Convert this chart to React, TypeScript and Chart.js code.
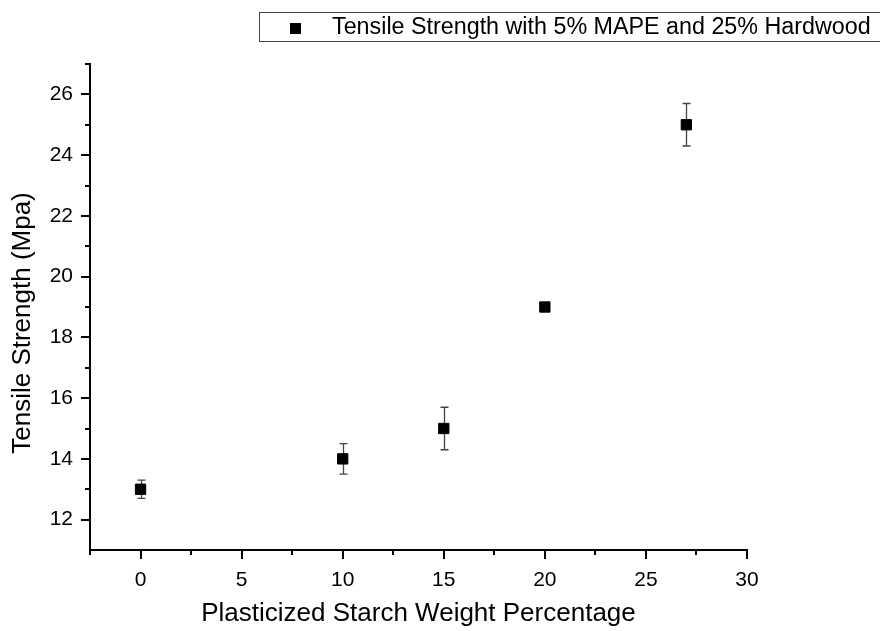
import { useEffect, useRef } from 'react';
import { Chart, registerables } from 'chart.js';

Chart.register(...registerables);

const starchPct = [0, 10, 15, 20, 27];
const tensileStrength = [13, 14, 15, 19, 25];
const tensileError = [0.3, 0.5, 0.7, 0.1, 0.7];

const xTickValues = [0, 5, 10, 15, 20, 25, 30];
const xMinorTickValues = [-2.5, 2.5, 7.5, 12.5, 17.5, 22.5, 27.5];
const yTickValues = [12, 14, 16, 18, 20, 22, 24, 26];
const yMinorTickValues = [13, 15, 17, 19, 21, 23, 25, 27];

const seriesLabel = 'Tensile Strength with 5% MAPE and 25% Hardwood';
const xTitle = 'Plasticized Starch Weight Percentage';
const yTitle = 'Tensile Strength (Mpa)';

const FONT = '"Liberation Sans", Arial, Helvetica, sans-serif';

const decor = {
  id: 'decor',
  beforeDatasetsDraw(chart: any) {
    const ctx = chart.ctx;
    const xs = chart.scales.x;
    const ys = chart.scales.y;
    ctx.save();
    ctx.strokeStyle = '#444';
    ctx.lineWidth = 1.3;
    starchPct.forEach((x, i) => {
      const px = Math.round(xs.getPixelForValue(x)) + 0.5;
      const top = ys.getPixelForValue(tensileStrength[i] + tensileError[i]);
      const bot = ys.getPixelForValue(tensileStrength[i] - tensileError[i]);
      ctx.beginPath();
      ctx.moveTo(px, top);
      ctx.lineTo(px, bot);
      ctx.moveTo(px - 4, top);
      ctx.lineTo(px + 4, top);
      ctx.moveTo(px - 4, bot);
      ctx.lineTo(px + 4, bot);
      ctx.stroke();
    });
    ctx.restore();
  },
  afterDraw(chart: any) {
    const ctx = chart.ctx;
    const xs = chart.scales.x;
    const ys = chart.scales.y;
    const area = chart.chartArea;
    ctx.save();
    ctx.strokeStyle = '#000';
    ctx.lineWidth = 2;
    ctx.beginPath();
    xTickValues.forEach((v) => {
      const p = Math.round(xs.getPixelForValue(v));
      ctx.moveTo(p, area.bottom);
      ctx.lineTo(p, area.bottom + 9);
    });
    xMinorTickValues.forEach((v) => {
      const p = Math.round(xs.getPixelForValue(v));
      ctx.moveTo(p, area.bottom);
      ctx.lineTo(p, area.bottom + 5);
    });
    yTickValues.forEach((v) => {
      const p = Math.round(ys.getPixelForValue(v));
      ctx.moveTo(area.left, p);
      ctx.lineTo(area.left - 9, p);
    });
    yMinorTickValues.forEach((v) => {
      const p = Math.round(ys.getPixelForValue(v));
      ctx.moveTo(area.left, p);
      ctx.lineTo(area.left - 5, p);
    });
    ctx.stroke();

    // y axis title
    ctx.save();
    ctx.translate(22.5, (area.top + area.bottom) / 2 + 16);
    ctx.rotate(-Math.PI / 2);
    ctx.fillStyle = '#000';
    ctx.font = '26px ' + FONT;
    ctx.textAlign = 'center';
    ctx.textBaseline = 'middle';
    ctx.fillText(yTitle, 0, 0);
    ctx.restore();

    // legend
    ctx.strokeStyle = '#444';
    ctx.lineWidth = 1;
    ctx.strokeRect(259.5, 12.5, 700, 29);
    ctx.fillStyle = '#000';
    ctx.fillRect(290, 23, 11, 11);
    ctx.font = '23.3px ' + FONT;
    ctx.textAlign = 'left';
    ctx.textBaseline = 'alphabetic';
    ctx.fillText(seriesLabel, 332, 33.5);
    ctx.restore();
  },
};

export default function App() {
  const ref = useRef<HTMLCanvasElement>(null);
  useEffect(() => {
    if (!ref.current) return;
    const chart = new Chart(ref.current, {
      type: 'scatter',
      data: {
        datasets: [
          {
            label: seriesLabel,
            data: starchPct.map((x, i) => ({ x, y: tensileStrength[i] })),
            pointStyle: 'rect',
            pointRadius: 7.3,
            pointHoverRadius: 7.3,
            backgroundColor: '#000',
            borderColor: '#000',
            borderWidth: 1,
            showLine: false,
          },
        ],
      },
      options: {
        responsive: false,
        animation: false,
        devicePixelRatio: 1,
        layout: { padding: { top: 64, right: 133, left: 0, bottom: 0 } },
        plugins: { legend: { display: false }, tooltip: { enabled: false } },
        scales: {
          x: {
            type: 'linear',
            min: -2.5,
            max: 30,
            afterBuildTicks: (s: any) => {
              s.ticks = xTickValues.map((v) => ({ value: v }));
            },
            afterFit: (s: any) => {
              s.height = 81;
            },
            grid: { display: false, drawTicks: false },
            border: { display: true, color: '#000', width: 2 },
            ticks: {
              color: '#000',
              font: { size: 21, family: FONT },
              padding: 18,
              maxRotation: 0,
              autoSkip: false,
            },
            title: {
              display: true,
              text: xTitle,
              color: '#000',
              font: { size: 26, family: FONT },
              padding: { top: 0, bottom: 2 },
            },
          },
          y: {
            type: 'linear',
            min: 11,
            max: 27,
            afterBuildTicks: (s: any) => {
              s.ticks = yTickValues.map((v) => ({ value: v }));
            },
            afterFit: (s: any) => {
              s.width = 90;
            },
            grid: { display: false, drawTicks: false },
            border: { display: true, color: '#000', width: 2 },
            ticks: {
              color: '#000',
              font: { size: 21, family: FONT },
              padding: 17,
              autoSkip: false,
            },
            title: { display: false },
          },
        },
      },
      plugins: [decor],
    });
    return () => chart.destroy();
  }, []);
  return (
    <div style={{ position: 'absolute', left: 0, top: 0, width: 880, height: 631, background: '#fff' }}>
      <canvas ref={ref} width={880} height={631} style={{ display: 'block' }} />
    </div>
  );
}
